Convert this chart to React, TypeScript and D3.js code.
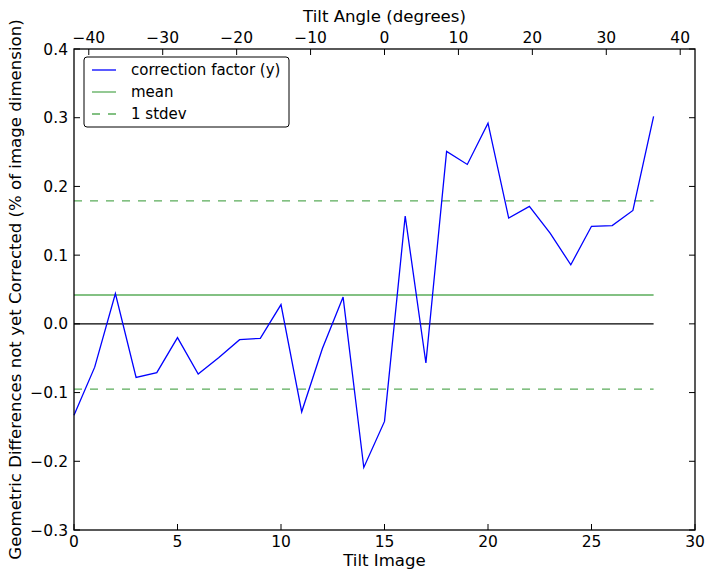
import React from "react";
import * as d3 from "d3";

const tiltImages: number[] = [0,1,2,3,4,5,6,7,8,9,10,11,12,13,14,15,16,17,18,19,20,21,22,23,24,25,26,27,28];
const correction: number[] = [-0.133,-0.063,0.044,-0.078,-0.071,-0.020,-0.073,-0.049,-0.023,-0.021,0.028,-0.128,-0.036,0.039,-0.209,-0.142,0.157,-0.057,0.251,0.232,0.292,0.154,0.171,0.132,0.086,0.142,0.143,0.165,0.302];
const meanValue = 0.042;
const stdevValue = 0.137;
const xTicks: number[] = [0,5,10,15,20,25,30];
const yTicks: number[] = [-0.3,-0.2,-0.1,0.0,0.1,0.2,0.3,0.4];
const angleTicks: number[] = [-40,-30,-20,-10,0,10,20,30,40];
const legendLabels: string[] = ["correction factor (y)", "mean", "1 stdev"];

const W = 714, H = 579;
const L = 74, R = 695, T = 49, B = 530;
const FONT = "'DejaVu Sans', sans-serif";
const GREEN = "rgb(0,128,0)";

export default function App() {
  const x = d3.scaleLinear().domain([0, 30]).range([L, R]);
  const xTop = d3.scaleLinear().domain([-42, 42]).range([L, R]);
  const y = d3.scaleLinear().domain([-0.3, 0.4]).range([B, T]);
  const line = d3.line<number>().x((_, i) => x(tiltImages[i])).y(d => y(d));
  const x0 = x(tiltImages[0]);
  const x1 = x(tiltImages[tiltImages.length - 1]);
  const tk = 6;
  return (
    <svg width={W} height={H} style={{ position: "absolute", left: 0, top: 0, background: "#fff" }} fontFamily={FONT}>
      <rect x={0} y={0} width={W} height={H} fill="#fff" />
      {/* reference lines */}
      <line x1={x0} x2={x1} y1={y(0)} y2={y(0)} stroke="#000" strokeWidth={1.3} />
      <line x1={x0} x2={x1} y1={y(meanValue)} y2={y(meanValue)} stroke={GREEN} strokeOpacity={0.65} strokeWidth={1.3} />
      <line x1={x0} x2={x1} y1={y(meanValue + stdevValue)} y2={y(meanValue + stdevValue)} stroke={GREEN} strokeOpacity={0.65} strokeWidth={1.3} strokeDasharray="8,8" />
      <line x1={x0} x2={x1} y1={y(meanValue - stdevValue)} y2={y(meanValue - stdevValue)} stroke={GREEN} strokeOpacity={0.65} strokeWidth={1.3} strokeDasharray="8,8" />
      <path d={line(correction) || ""} fill="none" stroke="#0000ff" strokeWidth={1.3} strokeLinejoin="miter" />
      {/* frame */}
      <rect x={L} y={T} width={R - L} height={B - T} fill="none" stroke="#000" strokeWidth={1.3} />
      {/* bottom ticks */}
      {xTicks.map(t => (
        <g key={"xb" + t}>
          <line x1={x(t)} x2={x(t)} y1={B} y2={B - tk} stroke="#000" />
          <text x={x(t)} y={B + 17} fontSize={15.5} textAnchor="middle">{t}</text>
        </g>
      ))}
      {/* top ticks */}
      {angleTicks.map(t => (
        <g key={"xt" + t}>
          <line x1={xTop(t)} x2={xTop(t)} y1={T} y2={T + tk} stroke="#000" />
          <text x={xTop(t)} y={T - 6} fontSize={15.5} textAnchor="middle">{t < 0 ? "\u2212" + Math.abs(t) : String(t)}</text>
        </g>
      ))}
      {/* y ticks */}
      {yTicks.map(t => (
        <g key={"y" + t}>
          <line x1={L} x2={L + tk} y1={y(t)} y2={y(t)} stroke="#000" />
          <line x1={R} x2={R - tk} y1={y(t)} y2={y(t)} stroke="#000" />
          <text x={L - 6} y={y(t) + 5.5} fontSize={15.5} textAnchor="end">{t < 0 ? "\u2212" + Math.abs(t).toFixed(1) : t.toFixed(1)}</text>
        </g>
      ))}
      {/* axis labels */}
      <text x={(L + R) / 2} y={566} fontSize={16.6} textAnchor="middle">Tilt Image</text>
      <text x={(L + R) / 2} y={22} fontSize={16.6} textAnchor="middle">Tilt Angle (degrees)</text>
      <text transform={`translate(21,${(T + B) / 2}) rotate(-90)`} fontSize={16.6} textAnchor="middle">Geometric Differences not yet Corrected (% of image dimension)</text>
      {/* legend */}
      <g>
        <rect x={84} y={57} width={205} height={70} rx={3} fill="#fff" stroke="#000" strokeWidth={1} />
        {legendLabels.map((lab, i) => {
          const ly = 70 + i * 22;
          const stroke = i === 0 ? "#0000ff" : GREEN;
          return (
            <g key={lab}>
              <line x1={92} x2={116} y1={ly} y2={ly} stroke={stroke} strokeOpacity={i === 0 ? 1 : 0.65} strokeWidth={1.3} strokeDasharray={i === 2 ? "8,8" : undefined} />
              <text x={131} y={ly + 5} fontSize={15}>{lab}</text>
            </g>
          );
        })}
      </g>
    </svg>
  );
}
